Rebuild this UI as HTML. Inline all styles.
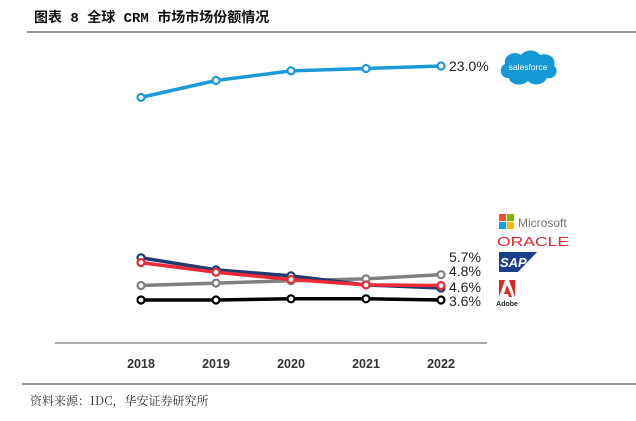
<!DOCTYPE html>
<html><head><meta charset="utf-8"><style>
html,body{margin:0;padding:0;background:#fff;}
body{width:636px;height:416px;overflow:hidden;position:relative;font-family:"Liberation Sans","Noto Sans CJK SC",sans-serif;}
</style></head><body>
<svg width="636" height="416" viewBox="0 0 636 416" xmlns="http://www.w3.org/2000/svg">
<text x="34" y="22" font-size="14" font-weight="bold" font-family="'Liberation Mono','Noto Sans CJK SC',sans-serif" fill="#111">图表 8 全球 CRM 市场市场份额情况</text>
<rect x="27" y="31" width="609" height="2" fill="#999"/>
<line x1="55" y1="343" x2="487" y2="343" stroke="#777" stroke-width="1.2"/>
<g id="xticks"></g>
<g id="series"></g>
<g id="labels"></g>
<g>
<path d="M505,64 C503,55 515,50 521,55 C525,49 536,49 540,55 C548,52 557,58 554,66 C560,70 555,80 547,78 C543,86 532,86 528,81 C522,87 510,85 509,78 C500,79 498,67 505,64 Z" fill="#1798d6"/>
<text x="528" y="70" font-size="8.5" fill="#fff" text-anchor="middle">salesforce</text>
</g>
<g>
<rect x="499" y="214" width="7" height="7" fill="#f25022"/><rect x="507" y="214" width="7" height="7" fill="#7fba00"/>
<rect x="499" y="222" width="7" height="7" fill="#00a4ef"/><rect x="507" y="222" width="7" height="7" fill="#ffb900"/>
<text x="518" y="227" font-size="12" fill="#737373">Microsoft</text>
</g>
<text x="497" y="246" font-size="12.5" fill="#e8262b" textLength="72" lengthAdjust="spacingAndGlyphs">ORACLE</text>
<g>
<path d="M499,252 H537 L518,272 H499 Z" fill="#1b3f8b"/>
<text x="500" y="267" font-size="13" font-weight="bold" fill="#fff" font-style="italic">SAP</text>
</g>
<g>
<path d="M499,280 H505 L499,297 Z M509,280 H515 V297 Z M507,285 L512,297 H509 L508,294 H504 Z" fill="#e1251b"/>
<text x="507" y="306" font-size="7" font-weight="bold" fill="#222" text-anchor="middle">Adobe</text>
</g>
<rect x="22" y="383" width="614" height="2" fill="#999"/>
<text x="30" y="405" font-size="12" font-family="'Noto Serif CJK SC','WenQuanYi Zen Hei',serif" fill="#333">资料来源：IDC，华安证券研究所</text>
</svg>
<script>
const years = ["2018","2019","2020","2021","2022"];
const salesforce = [20.4, 21.8, 22.6, 22.8, 23.0];
const microsoft = [4.8, 5.0, 5.2, 5.35, 5.7];
const sap = [7.1, 6.1, 5.6, 4.85, 4.6];
const oracle = [6.7, 5.9, 5.3, 4.85, 4.8];
const adobe = [3.6, 3.6, 3.7, 3.7, 3.6];
const endLabels = ["23.0%", "5.7%", "4.8%", "4.6%", "3.6%"];

const NS = "http://www.w3.org/2000/svg";
function xs(i){ return 141 + i * 75; }
function ys(v){ return 300 - (v - 3.6) * 12.06; }

const xt = document.getElementById('xticks');
years.forEach((y, i) => {
  const t = document.createElementNS(NS, 'text');
  
  
  t.setAttribute('x', xs(i)); t.setAttribute('y', 368);
  t.setAttribute('text-anchor', 'middle'); t.setAttribute('font-size', '12.5');
  t.setAttribute('font-weight', 'bold'); t.setAttribute('fill', '#333');
  t.textContent = y; xt.appendChild(t);
});

const sg = document.getElementById('series');
const seriesList = [
  {name:'microsoft', data:microsoft, color:'#808080'},
  {name:'adobe', data:adobe, color:'#000000'},
  {name:'sap', data:sap, color:'#1f3a6e'},
  {name:'oracle', data:oracle, color:'#ee2b36'},
  {name:'salesforce', data:salesforce, color:'#1a9ad9'}
];
seriesList.forEach(s => {
  const pts = s.data.map((v, i) => xs(i) + ',' + ys(v)).join(' ');
  const pl = document.createElementNS(NS, 'polyline');
  
  
  pl.setAttribute('points', pts); pl.setAttribute('fill', 'none');
  pl.setAttribute('stroke', s.color); pl.setAttribute('stroke-width', '3.5');
  sg.appendChild(pl);
  s.data.forEach((v, i) => {
    const c = document.createElementNS(NS, 'circle');
    
    
    c.setAttribute('cx', xs(i)); c.setAttribute('cy', ys(v)); c.setAttribute('r', '3.5');
    c.setAttribute('fill', '#fff'); c.setAttribute('stroke', s.color); c.setAttribute('stroke-width', '2.2');
    sg.appendChild(c);
  });
});

const lg = document.getElementById('labels');
const labelY = [71, 262, 276, 292, 306];
endLabels.forEach((l, i) => {
  const t = document.createElementNS(NS, 'text');
  
  
  t.setAttribute('x', 449); t.setAttribute('y', labelY[i]);
  t.setAttribute('font-size', '14'); t.setAttribute('fill', '#222');
  t.textContent = l; lg.appendChild(t);
});
</script>
</body></html>
